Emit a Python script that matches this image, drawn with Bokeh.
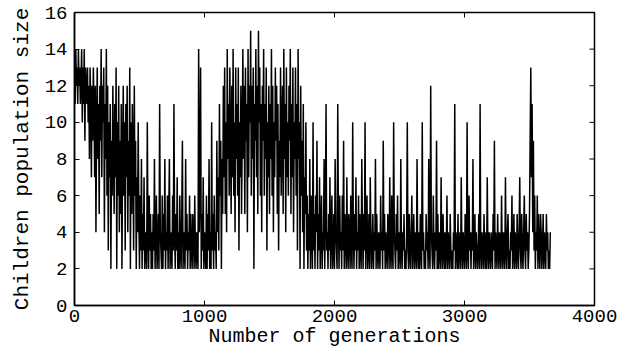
import math
from bokeh.plotting import figure
from bokeh.models import Range1d
from bokeh.embed import file_html
from bokeh.resources import INLINE

size = [
    13, 11, 14, 12, 13, 11, 14, 12, 13, 11,
    12, 14, 10, 13, 11, 14, 9, 13, 12, 11,
    13, 10, 12, 8, 13, 11, 7, 12, 9, 13,
    11, 7, 12, 4, 10, 13, 8, 11, 5, 12,
    9, 14, 7, 12, 10, 13, 4, 11, 8, 14,
    6, 12, 3, 10, 7, 11, 2, 9, 6, 12,
    8, 5, 11, 7, 13, 2, 10, 6, 12, 4,
    9, 5, 11, 2, 8, 12, 6, 10, 3, 11,
    7, 12, 4, 9, 6, 13, 2, 10, 5, 11,
    8, 3, 12, 6, 9, 2, 7, 4, 10, 5,
    2, 6, 3, 8, 2, 5, 3, 7, 2, 4,
    3, 2, 10, 4, 2, 6, 3, 5, 2, 4,
    2, 5, 3, 8, 2, 4, 6, 2, 3, 5,
    2, 11, 4, 3, 2, 6, 2, 5, 3, 8,
    2, 4, 3, 6, 2, 5, 8, 2, 4, 3,
    2, 6, 3, 11, 4, 2, 5, 3, 7, 2,
    4, 2, 6, 3, 2, 5, 9, 2, 4, 3,
    2, 8, 3, 5, 2, 4, 3, 6, 2, 5,
    3, 2, 5, 4, 2, 6, 3, 2, 4, 3,
    2, 14, 4, 6, 13, 2, 5, 3, 7, 2,
    4, 3, 2, 6, 2, 5, 3, 8, 2, 4,
    2, 10, 3, 5, 2, 6, 3, 4, 2, 9,
    4, 7, 3, 11, 6, 9, 2, 8, 5, 12,
    7, 13, 5, 10, 4, 14, 8, 11, 6, 13,
    9, 5, 12, 7, 14, 6, 10, 4, 13, 8,
    11, 6, 13, 3, 10, 7, 12, 5, 9, 14,
    8, 12, 5, 13, 9, 11, 4, 14, 7, 12,
    10, 15, 6, 12, 8, 13, 2, 11, 9, 14,
    7, 12, 5, 15, 10, 13, 6, 11, 4, 12,
    9, 14, 6, 11, 8, 13, 3, 10, 7, 12,
    5, 11, 8, 14, 6, 12, 4, 10, 7, 13,
    9, 12, 5, 11, 3, 9, 7, 13, 6, 10,
    12, 5, 14, 8, 11, 4, 13, 7, 10, 6,
    12, 9, 14, 5, 11, 7, 13, 4, 10, 8,
    13, 6, 11, 3, 14, 8, 10, 2, 12, 6,
    9, 4, 11, 2, 7, 5, 10, 3, 6, 2,
    5, 3, 8, 2, 6, 4, 2, 10, 3, 5,
    2, 6, 4, 9, 2, 5, 3, 7, 2, 4,
    6, 2, 4, 3, 8, 2, 5, 11, 3, 4,
    2, 5, 3, 7, 2, 4, 6, 2, 3, 5,
    2, 8, 4, 3, 2, 11, 5, 2, 6, 3,
    4, 2, 6, 3, 9, 2, 5, 4, 2, 7,
    3, 2, 5, 4, 2, 6, 3, 2, 10, 4,
    2, 5, 3, 7, 2, 4, 3, 6, 2, 5,
    3, 2, 8, 4, 2, 5, 3, 10, 2, 4,
    6, 2, 3, 5, 2, 7, 4, 2, 3, 5,
    2, 4, 3, 8, 2, 5, 3, 2, 4, 3,
    2, 6, 3, 4, 2, 9, 3, 5, 2, 4,
    3, 2, 5, 4, 2, 7, 3, 2, 6, 3,
    2, 10, 4, 3, 2, 5, 3, 6, 2, 4,
    3, 2, 8, 3, 2, 4, 3, 5, 2, 3,
    2, 4, 10, 3, 2, 5, 3, 2, 4, 6,
    2, 3, 5, 2, 4, 3, 2, 8, 3, 2,
    4, 2, 5, 3, 2, 10, 3, 4, 2, 3,
    2, 5, 3, 4, 2, 8, 3, 2, 12, 4,
    3, 2, 6, 3, 2, 4, 3, 9, 2, 5,
    2, 4, 3, 2, 7, 3, 2, 5, 3, 2,
    4, 2, 3, 6, 2, 4, 3, 2, 5, 3,
    2, 3, 2, 4, 3, 11, 2, 4, 3, 2,
    5, 2, 3, 4, 2, 7, 3, 2, 4, 3,
    2, 5, 3, 2, 10, 3, 2, 6, 3, 4,
    2, 4, 3, 8, 2, 3, 5, 2, 4, 3,
    2, 3, 5, 2, 11, 3, 2, 4, 3, 2,
    5, 3, 2, 4, 2, 7, 3, 2, 4, 3,
    2, 4, 3, 2, 5, 3, 9, 2, 4, 3,
    2, 5, 3, 2, 4, 3, 2, 6, 3, 2,
    4, 3, 2, 7, 3, 2, 4, 5, 2, 3,
    2, 4, 3, 6, 2, 3, 5, 2, 4, 3,
    2, 5, 3, 2, 4, 7, 3, 2, 5, 3,
    2, 4, 6, 3, 2, 5, 3, 4, 2, 3,
    5, 9, 13, 7, 11, 4, 9, 3, 6, 2,
    4, 3, 6, 2, 5, 3, 2, 5, 4, 2,
    3, 5, 2, 4, 3, 2, 5, 3, 4, 2,
    3, 2, 4,
]
step = 5
generation = [i * step for i in range(len(size))]

x_ticks = [0, 1000, 2000, 3000, 4000]
y_ticks = [0, 2, 4, 6, 8, 10, 12, 14, 16]

FONT = "Liberation Mono"
X_MAX, Y_MAX = 4000, 16

p = figure(width=629, height=350, output_backend="svg", toolbar_location=None,
           x_range=Range1d(0, X_MAX), y_range=Range1d(0, Y_MAX),
           min_border_left=74, min_border_right=35, min_border_top=12,
           min_border_bottom=40)
p.xgrid.visible = False
p.ygrid.visible = False
p.outline_line_color = "black"
p.outline_line_width = 1.5
p.outline_line_alpha = 1.0

p.line(generation, size, line_color="black", line_width=1.5)

for ax in (p.xaxis[0], p.yaxis[0]):
    ax.major_tick_in = 5
    ax.major_tick_out = 0
    ax.minor_tick_line_color = None
    ax.axis_line_color = "black"
    ax.axis_line_width = 1.5
    ax.major_tick_line_color = "black"
    ax.major_label_text_font = FONT
    ax.major_label_text_font_size = "19px"
    ax.major_label_text_color = "black"
    ax.axis_label_text_font = FONT
    ax.axis_label_text_font_style = "normal"
    ax.axis_label_text_color = "black"

p.xaxis.axis_label_text_font_size = "20px"
p.yaxis.axis_label_text_font_size = "21px"
p.xaxis.ticker = x_ticks
p.yaxis.ticker = y_ticks
p.xaxis.axis_label = "Number of generations"
p.yaxis.axis_label = "Children population size"
p.xaxis.major_label_standoff = 4
p.yaxis.major_label_standoff = 7
p.xaxis.axis_label_standoff = 0
p.yaxis.axis_label_standoff = 8

# inward tick marks on the top and right edges of the frame
p.ray(x=x_ticks, y=[Y_MAX] * len(x_ticks), length=5, length_units="screen",
      angle=-math.pi / 2, line_color="black", line_width=1)
p.ray(x=[X_MAX] * len(y_ticks), y=y_ticks, length=5, length_units="screen",
      angle=math.pi, line_color="black", line_width=1)

open("out.html", "w").write(file_html(p, INLINE))
